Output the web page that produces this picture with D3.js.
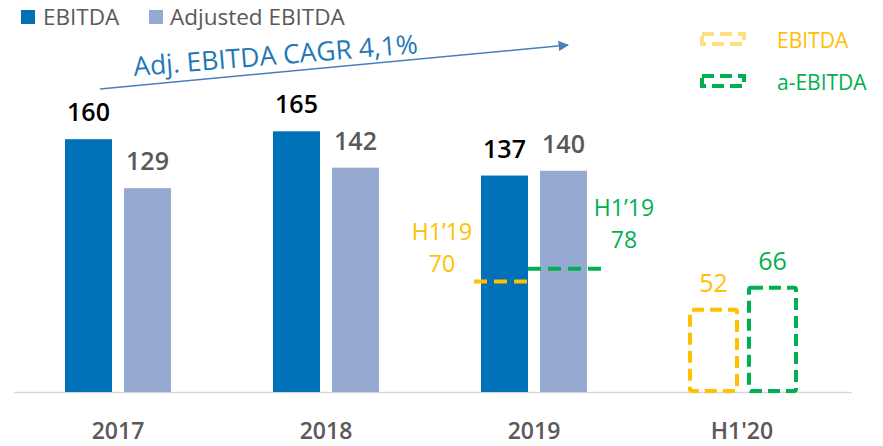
<!DOCTYPE html>
<html>
<head>
<meta charset="utf-8">
<script src="https://cdn.jsdelivr.net/npm/d3@7"></script>
<style>
  html, body { margin: 0; padding: 0; background: #fff; }
  svg { display: block; font-family: "Open Sans", "Noto Sans", sans-serif; }
</style>
</head>
<body>
<svg id="chart" width="883" height="446"></svg>
<script>
// Yearly values (EUR m)
const categories = ["2017", "2018", "2019", "H1'20"];
const seriesKeys = ["EBITDA", "Adjusted EBITDA"];
const ebitda = [160, 165, 137, null];
const adjustedEbitda = [129, 142, 140, null];
// Half-year figures
const h1Labels = ["EBITDA", "a-EBITDA"];
const h1_2020 = [52, 66];
const h1_2019 = [70, 78];
const cagrLabel = "Adj. EBITDA CAGR 4,1%";

const colors = { ebitda: "#0071b9", adjusted: "#95a9d1", yellow: "#ffc000", green: "#00b050", grey: "#595959" };

const svg = d3.select("#chart");
const baseY = 392;

const x0 = d3.scaleBand().domain(categories).range([14, 846]);
const x1 = d3.scaleBand().domain([0, 1]).range([0, 106]).paddingInner(0.203);
const y = d3.scaleLinear().domain([0, 200]).range([baseY, baseY - 316]);
const groupLeft = c => x0(c) + x0.bandwidth() / 2 - 53;

// Baseline
svg.append("line")
  .attr("x1", 14).attr("x2", 852).attr("y1", baseY + 0.5).attr("y2", baseY + 0.5)
  .attr("stroke", "#d9d9d9").attr("stroke-width", 1.5);

// Solid bars
const seriesVals = [ebitda, adjustedEbitda];
const seriesCols = [colors.ebitda, colors.adjusted];
const labelCols = ["#000", colors.grey];
seriesVals.forEach((vals, si) => {
  const rows = categories.map((c, i) => ({ c, v: vals[i] })).filter(d => d.v != null);
  svg.append("g").selectAll("rect").data(rows).join("rect")
    .attr("x", d => groupLeft(d.c) + x1(si))
    .attr("width", x1.bandwidth())
    .attr("y", d => y(d.v))
    .attr("height", d => baseY - y(d.v))
    .attr("fill", seriesCols[si]);
  svg.append("g").selectAll("text").data(rows).join("text")
    .attr("x", d => groupLeft(d.c) + x1(si) + x1.bandwidth() / 2)
    .attr("y", d => y(d.v) - 18)
    .attr("text-anchor", "middle")
    .attr("font-size", 25).attr("font-weight", 600)
    .attr("fill", labelCols[si])
    .text(d => d.v);
});

// H1'20 dashed bars
const lastCat = categories[3];
const dashCols = [colors.yellow, colors.green];
h1_2020.forEach((v, si) => {
  const bx = groupLeft(lastCat) + x1(si);
  svg.append("rect")
    .attr("x", bx + 1).attr("width", x1.bandwidth())
    .attr("y", y(v)).attr("height", baseY - y(v) - 1)
    .attr("rx", 2)
    .attr("fill", "none").attr("stroke", dashCols[si])
    .attr("stroke-width", 4).attr("stroke-dasharray", "12 6");
  svg.append("text")
    .attr("x", bx + 1 + x1.bandwidth() / 2).attr("y", y(v) - 18)
    .attr("text-anchor", "middle").attr("font-size", 25)
    .attr("fill", dashCols[si]).text(v);
});

// H1'19 reference lines on 2019
const c19 = categories[2];
const h1Lines = [
  { v: h1_2019[0], xa: groupLeft(c19) + x1(0) - 7, xb: groupLeft(c19) + x1(0) + x1.bandwidth() + 5, col: colors.yellow, tx: 442, ty: 240 },
  { v: h1_2019[1], xa: groupLeft(c19) + x1(1) - 12, xb: groupLeft(c19) + x1(1) + x1.bandwidth() + 14, col: colors.green, tx: 624, ty: 216 }
];
h1Lines.forEach(d => {
  svg.append("line")
    .attr("x1", d.xa).attr("x2", d.xb).attr("y1", y(d.v)).attr("y2", y(d.v))
    .attr("stroke", d.col).attr("stroke-width", 4).attr("stroke-dasharray", "13 7");
  const t = svg.append("text").attr("text-anchor", "middle").attr("font-size", 23).attr("fill", d.col);
  t.append("tspan").attr("x", d.tx).attr("y", d.ty).text("H1\u201919");
  t.append("tspan").attr("x", d.tx).attr("y", d.ty + 32).text(d.v);
});

// Category labels
svg.append("g").selectAll("text").data(categories).join("text")
  .attr("x", c => x0(c) + x0.bandwidth() / 2)
  .attr("y", 439)
  .attr("text-anchor", "middle").attr("font-size", 23).attr("font-weight", 600)
  .attr("fill", colors.grey)
  .text(c => c);

// Top legend
const legend = svg.append("g");
[[21, 43, seriesKeys[0], colors.ebitda], [149, 170, seriesKeys[1], colors.adjusted]].forEach(([sx, tx, label, col]) => {
  legend.append("rect").attr("x", sx).attr("y", 10).attr("width", 14).attr("height", 14).attr("fill", col);
  legend.append("text").attr("x", tx).attr("y", 25).attr("font-size", 22.5).attr("fill", colors.grey).text(label);
});

// Right legend for half-year figures
h1Labels.forEach((label, i) => {
  const ly = 33 + i * 42;
  svg.append("rect").attr("x", 702).attr("y", ly + 1).attr("width", 42).attr("height", 10)
    .attr("fill", "none").attr("stroke", dashCols[i]).attr("stroke-width", 4)
    .attr("stroke-dasharray", "12 6").attr("opacity", i === 0 ? 0.5 : 1);
  svg.append("text").attr("x", 777).attr("y", ly + 15).attr("font-size", 21)
    .attr("fill", dashCols[i]).text(label);
});

// CAGR arrow
const defs = svg.append("defs");
defs.append("marker").attr("id", "arrow").attr("viewBox", "0 0 10 10")
  .attr("refX", 9).attr("refY", 5).attr("markerWidth", 7).attr("markerHeight", 7)
  .attr("orient", "auto")
  .append("path").attr("d", "M0,0 L10,5 L0,10 Z").attr("fill", "#4a7ebb");
svg.append("line")
  .attr("x1", 100).attr("y1", 89).attr("x2", 568).attr("y2", 45)
  .attr("stroke", "#4a7ebb").attr("stroke-width", 1.5).attr("marker-end", "url(#arrow)");
svg.append("text")
  .attr("transform", "translate(134,76) rotate(-4.6)")
  .attr("font-size", 26.5).attr("fill", "#1f78b8")
  .text(cagrLabel);
</script>
</body>
</html>
